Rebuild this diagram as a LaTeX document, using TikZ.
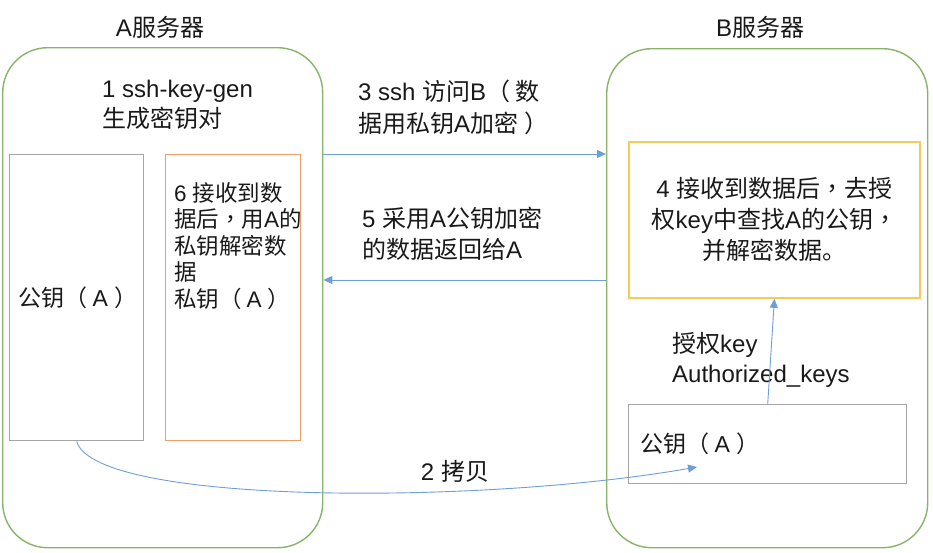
\documentclass[tikz,border=0pt]{standalone}
\usepackage{fontspec}
\setmainfont{Liberation Sans}
\newfontfamily\zhfont{Noto Sans CJK SC}
\newfontfamily\zhpunct{Noto Sans CJK TC}
\newcommand{\zh}[1]{{\zhfont #1}}
\newcommand{\zhcomma}{{\zhpunct ，}}
\newcommand{\lpar}{\zh{（}\hspace{5pt}}
\newcommand{\rpar}{\hspace{6pt}\zh{）}}
\usetikzlibrary{arrows.meta,positioning}
\definecolor{srvGreen}{RGB}{135,180,105}
\definecolor{keyGray}{RGB}{165,165,165}
\definecolor{keyOrange}{RGB}{238,158,105}
\definecolor{keyYellow}{RGB}{243,203,85}
\definecolor{flowBlue}{RGB}{110,158,215}
\definecolor{txtDark}{RGB}{25,25,25}

\tikzset{
  server/.style={draw=srvGreen, line width=1.4pt, rounded corners=45pt, anchor=north west},
  keybox/.style={line width=1.4pt, anchor=north west, inner sep=0pt},
  lbl/.style={text=txtDark, inner sep=0pt, font=\fontsize{24}{30}\selectfont},
  flow/.style={draw=flowBlue, line width=0.9pt, -{Triangle[length=9pt,width=8pt]}}
}

\begin{document}
\begin{tikzpicture}[x=1pt,y=-1pt]
    \useasboundingbox (0,0) rectangle (933,552);

    % servers
    \node[server, minimum width=320pt, minimum height=500pt] (serverA) at (2,47) {};
    \node[server, minimum width=321pt, minimum height=499pt] (serverB) at (606,48) {};
    \node[lbl, anchor=base] (titleA) at (160,36) {A\zh{服务器}};
    \node[lbl, anchor=base] (titleB) at (760,36) {B\zh{服务器}};

    % keys on A (base = last line)
    \node[keybox, draw=keyGray, minimum width=134pt, minimum height=286pt,
          text width=116pt, align=left, inner xsep=9pt, text=txtDark,
          font=\fontsize{23}{30}\selectfont] (pubA) at (9,154)
          {\mbox{\zh{公钥}\lpar A\rpar}};
    \node[keybox, draw=keyOrange, minimum width=135pt, minimum height=286pt] (privA) at (165,154) {};
    \node[lbl, anchor=base west, align=left, font=\fontsize{22.5}{26.5}\selectfont] (privTxt) at (174,307)
          {6 \zh{接收到数}\\\zh{据后}\zhcomma\zh{用}A\zh{的}\\\zh{私钥解密数}\\\zh{据}\\\zh{私钥}\lpar A\rpar};
    \node[lbl, anchor=base west, align=left] (genTxt) at (102,127) {1 ssh-key-gen\\\zh{生成密钥对}};

    % boxes on B
    \node[keybox, draw=keyYellow, line width=1.8pt, minimum width=291pt, minimum height=156pt, align=center,
          font=\fontsize{24}{31}\selectfont, text=txtDark] (decB) at (628,141)
          {4 \zh{接收到数据后}\zhcomma\zh{去授}\\\zh{权}key\zh{中查找}A\zh{的公钥}\zhcomma\\\zh{并解密数据。}};
    \node[keybox, draw=keyGray, minimum width=278pt, minimum height=79pt,
          text width=254pt, align=left, inner xsep=12pt, text=txtDark,
          font=\fontsize{23}{30}\selectfont] (pubB) at (628,404)
          {\mbox{\zh{公钥}\lpar A\rpar}};
    \node[lbl, anchor=base west, align=left] (authTxt) at (672,382) {\zh{授权}key\\Authorized\_keys};

    % flows between the servers
    \coordinate (retB) at (606,280);
    \coordinate (copyEnd) at (697,467);
    \draw[flow] (privA.north -| serverA.east) -- (privA.north -| serverB.west);
    \draw[flow] (retB) -- (retB -| serverA.east);
    \draw[flow] (pubB.north) -- (decB.south);
    \draw[flow] (pubA.south) .. controls (95,505) and (480,505) .. (copyEnd);

    \node[lbl, anchor=base west, align=left, font=\fontsize{24}{32}\selectfont] (sshTxt) at (358,132)
          {3 ssh \zh{访问}B\lpar\zh{数}\\\zh{据用私钥}A\zh{加密}\rpar};
    \node[lbl, anchor=base west, align=left, font=\fontsize{24}{31}\selectfont] (retTxt) at (362,258)
          {5 \zh{采用}A\zh{公钥加密}\\\zh{的数据返回给}A};
    \node[lbl, anchor=base] (copyTxt) at (455,480) {2 \zh{拷贝}};
\end{tikzpicture}
\end{document}
